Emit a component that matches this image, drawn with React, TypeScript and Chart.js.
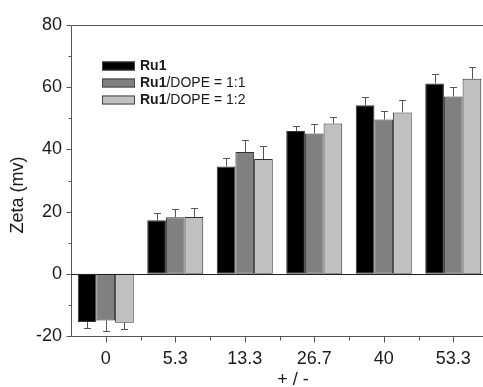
import React, { useEffect, useRef } from "react";
import { Chart, registerables } from "chart.js";

Chart.register(...registerables);

const categories = ["0", "5.3", "13.3", "26.7", "40", "53.3"];
const ru1 = [-15.5, 17.2, 34.5, 45.9, 54.2, 61.2];
const ru1Err = [2.0, 2.4, 2.8, 1.6, 2.5, 3.1];
const dope11 = [-15.0, 18.2, 39.2, 45.1, 49.6, 57.0];
const dope11Err = [3.5, 2.6, 3.8, 3.2, 2.6, 3.1];
const dope12 = [-15.7, 18.3, 36.9, 48.3, 51.9, 62.7];
const dope12Err = [2.2, 2.8, 4.3, 2.1, 4.0, 3.7];
const yTicks = [-20, 0, 20, 40, 60, 80];

const errors = [ru1Err, dope11Err, dope12Err];
const FONT = '"Liberation Sans", Arial, sans-serif';
const AXIS = "#555555";
const TEXT = "#1a1a1a";

const decorPlugin = {
  id: "decor",
  afterDatasetsDraw(chart: any) {
    const ctx = chart.ctx;
    ctx.save();
    ctx.strokeStyle = "#555555";
    ctx.lineWidth = 1;
    chart.data.datasets.forEach((ds: any, di: number) => {
      const meta = chart.getDatasetMeta(di);
      meta.data.forEach((bar: any, i: number) => {
        const v = ds.data[i];
        const e = errors[di][i];
        const end = v >= 0 ? v + e : v - e;
        const yS = chart.scales.y.getPixelForValue(v);
        const yE = Math.round(chart.scales.y.getPixelForValue(end)) + 0.5;
        const x = Math.round(bar.x) + 0.5;
        ctx.beginPath();
        ctx.moveTo(x, yS);
        ctx.lineTo(x, yE);
        ctx.moveTo(x - 3.5, yE);
        ctx.lineTo(x + 3.5, yE);
        ctx.stroke();
      });
    });
    ctx.restore();
  },
  afterDraw(chart: any) {
    const ctx = chart.ctx;
    const a = chart.chartArea;
    const ys = chart.scales.y;
    const xs = chart.scales.x;
    ctx.save();
    ctx.strokeStyle = AXIS;
    ctx.lineWidth = 1;
    const L = Math.round(a.left) + 0.5;
    const B = Math.round(a.bottom) + 0.5;
    const T = Math.round(a.top) + 0.5;
    const R = Math.round(a.right) + 0.5;
    ctx.beginPath();
    ctx.moveTo(L, T);
    ctx.lineTo(R, T);
    ctx.lineTo(R, B);
    ctx.lineTo(L, B);
    ctx.closePath();
    ctx.stroke();
    // zero line
    const z = Math.round(ys.getPixelForValue(0)) + 0.5;
    ctx.strokeStyle = "#222222";
    ctx.beginPath();
    ctx.moveTo(L, z);
    ctx.lineTo(R, z);
    ctx.stroke();
    ctx.strokeStyle = AXIS;
    // y ticks
    for (let v = -20; v <= 80; v += 10) {
      const py = Math.round(ys.getPixelForValue(v)) + 0.5;
      const len = v % 20 === 0 ? 5 : 3;
      ctx.beginPath();
      ctx.moveTo(L - len, py);
      ctx.lineTo(L, py);
      ctx.stroke();
    }
    // x ticks
    const step = xs.getPixelForValue(1) - xs.getPixelForValue(0);
    categories.forEach((_, i) => {
      const px = Math.round(xs.getPixelForValue(i)) + 0.5;
      ctx.beginPath();
      ctx.moveTo(px, B);
      ctx.lineTo(px, B + 6);
      ctx.stroke();
      if (i < categories.length - 1) {
        const mx = Math.round(xs.getPixelForValue(i) + step / 2) + 0.5;
        ctx.beginPath();
        ctx.moveTo(mx, B);
        ctx.lineTo(mx, B + 4);
        ctx.stroke();
      }
    });
    // axis titles
    ctx.fillStyle = TEXT;
    ctx.font = `18px ${FONT}`;
    ctx.textAlign = "center";
    ctx.textBaseline = "middle";
    ctx.fillText("+ / -", 293, 380);
    ctx.save();
    ctx.translate(18, 195);
    ctx.rotate(-Math.PI / 2);
    ctx.fillText("Zeta (mv)", 0, 0);
    ctx.restore();
    // legend
    const colors = ["#000000", "#808080", "#c0c0c0"];
    const rows = [
      ["Ru1", ""],
      ["Ru1", "/DOPE = 1:1"],
      ["Ru1", "/DOPE = 1:2"],
    ];
    const tops = [61.5, 78.5, 95.5];
    rows.forEach((r, i) => {
      ctx.fillStyle = colors[i];
      ctx.fillRect(102, tops[i], 33, 9);
      ctx.strokeStyle = "#444444";
      ctx.strokeRect(102.5, tops[i] + 0.5, 32, 8);
      ctx.fillStyle = TEXT;
      ctx.textAlign = "left";
      ctx.textBaseline = "middle";
      ctx.font = `bold 14px ${FONT}`;
      const cy = tops[i] + 5;
      ctx.fillText(r[0], 140, cy);
      const w = ctx.measureText(r[0]).width;
      ctx.font = `14px ${FONT}`;
      if (r[1]) ctx.fillText(r[1], 140 + w, cy);
    });
    ctx.restore();
  },
};

export default function App() {
  const ref = useRef<HTMLCanvasElement>(null);
  useEffect(() => {
    if (!ref.current) return;
    const mk = (label: string, data: number[], color: string) => ({
      label,
      data,
      backgroundColor: color,
      borderColor: "#333333",
      borderWidth: 1,
      borderSkipped: false,
      categoryPercentage: 0.806,
      barPercentage: 1.0,
    });
    const chart = new Chart(ref.current, {
      type: "bar",
      data: {
        labels: categories,
        datasets: [
          mk("Ru1", ru1, "#000000"),
          mk("Ru1/DOPE = 1:1", dope11, "#808080"),
          mk("Ru1/DOPE = 1:2", dope12, "#c0c0c0"),
        ],
      },
      options: {
        responsive: false,
        animation: false,
        devicePixelRatio: 1,
        layout: { padding: { left: 0, right: 12, top: 25, bottom: 0 } },
        plugins: { legend: { display: false }, tooltip: { enabled: false } },
        scales: {
          x: {
            type: "category",
            grid: { display: false, drawTicks: false },
            border: { display: false },
            ticks: { color: TEXT, font: { family: FONT, size: 18 }, padding: 12, maxRotation: 0 },
            afterFit: (s: any) => {
              s.height = 51;
            },
          },
          y: {
            min: -20,
            max: 80,
            grid: { display: false, drawTicks: false },
            border: { display: false },
            afterBuildTicks: (s: any) => {
              s.ticks = yTicks.map((v) => ({ value: v }));
            },
            ticks: { color: TEXT, font: { family: FONT, size: 18 }, padding: 9 },
            afterFit: (s: any) => {
              s.width = 71;
            },
          },
        },
      },
      plugins: [decorPlugin],
    });
    return () => chart.destroy();
  }, []);
  return (
    <div style={{ position: "fixed", left: 0, top: 0, width: 500, height: 387, background: "#fff" }}>
      <canvas ref={ref} width={500} height={387} style={{ width: 500, height: 387, display: "block" }} />
    </div>
  );
}
